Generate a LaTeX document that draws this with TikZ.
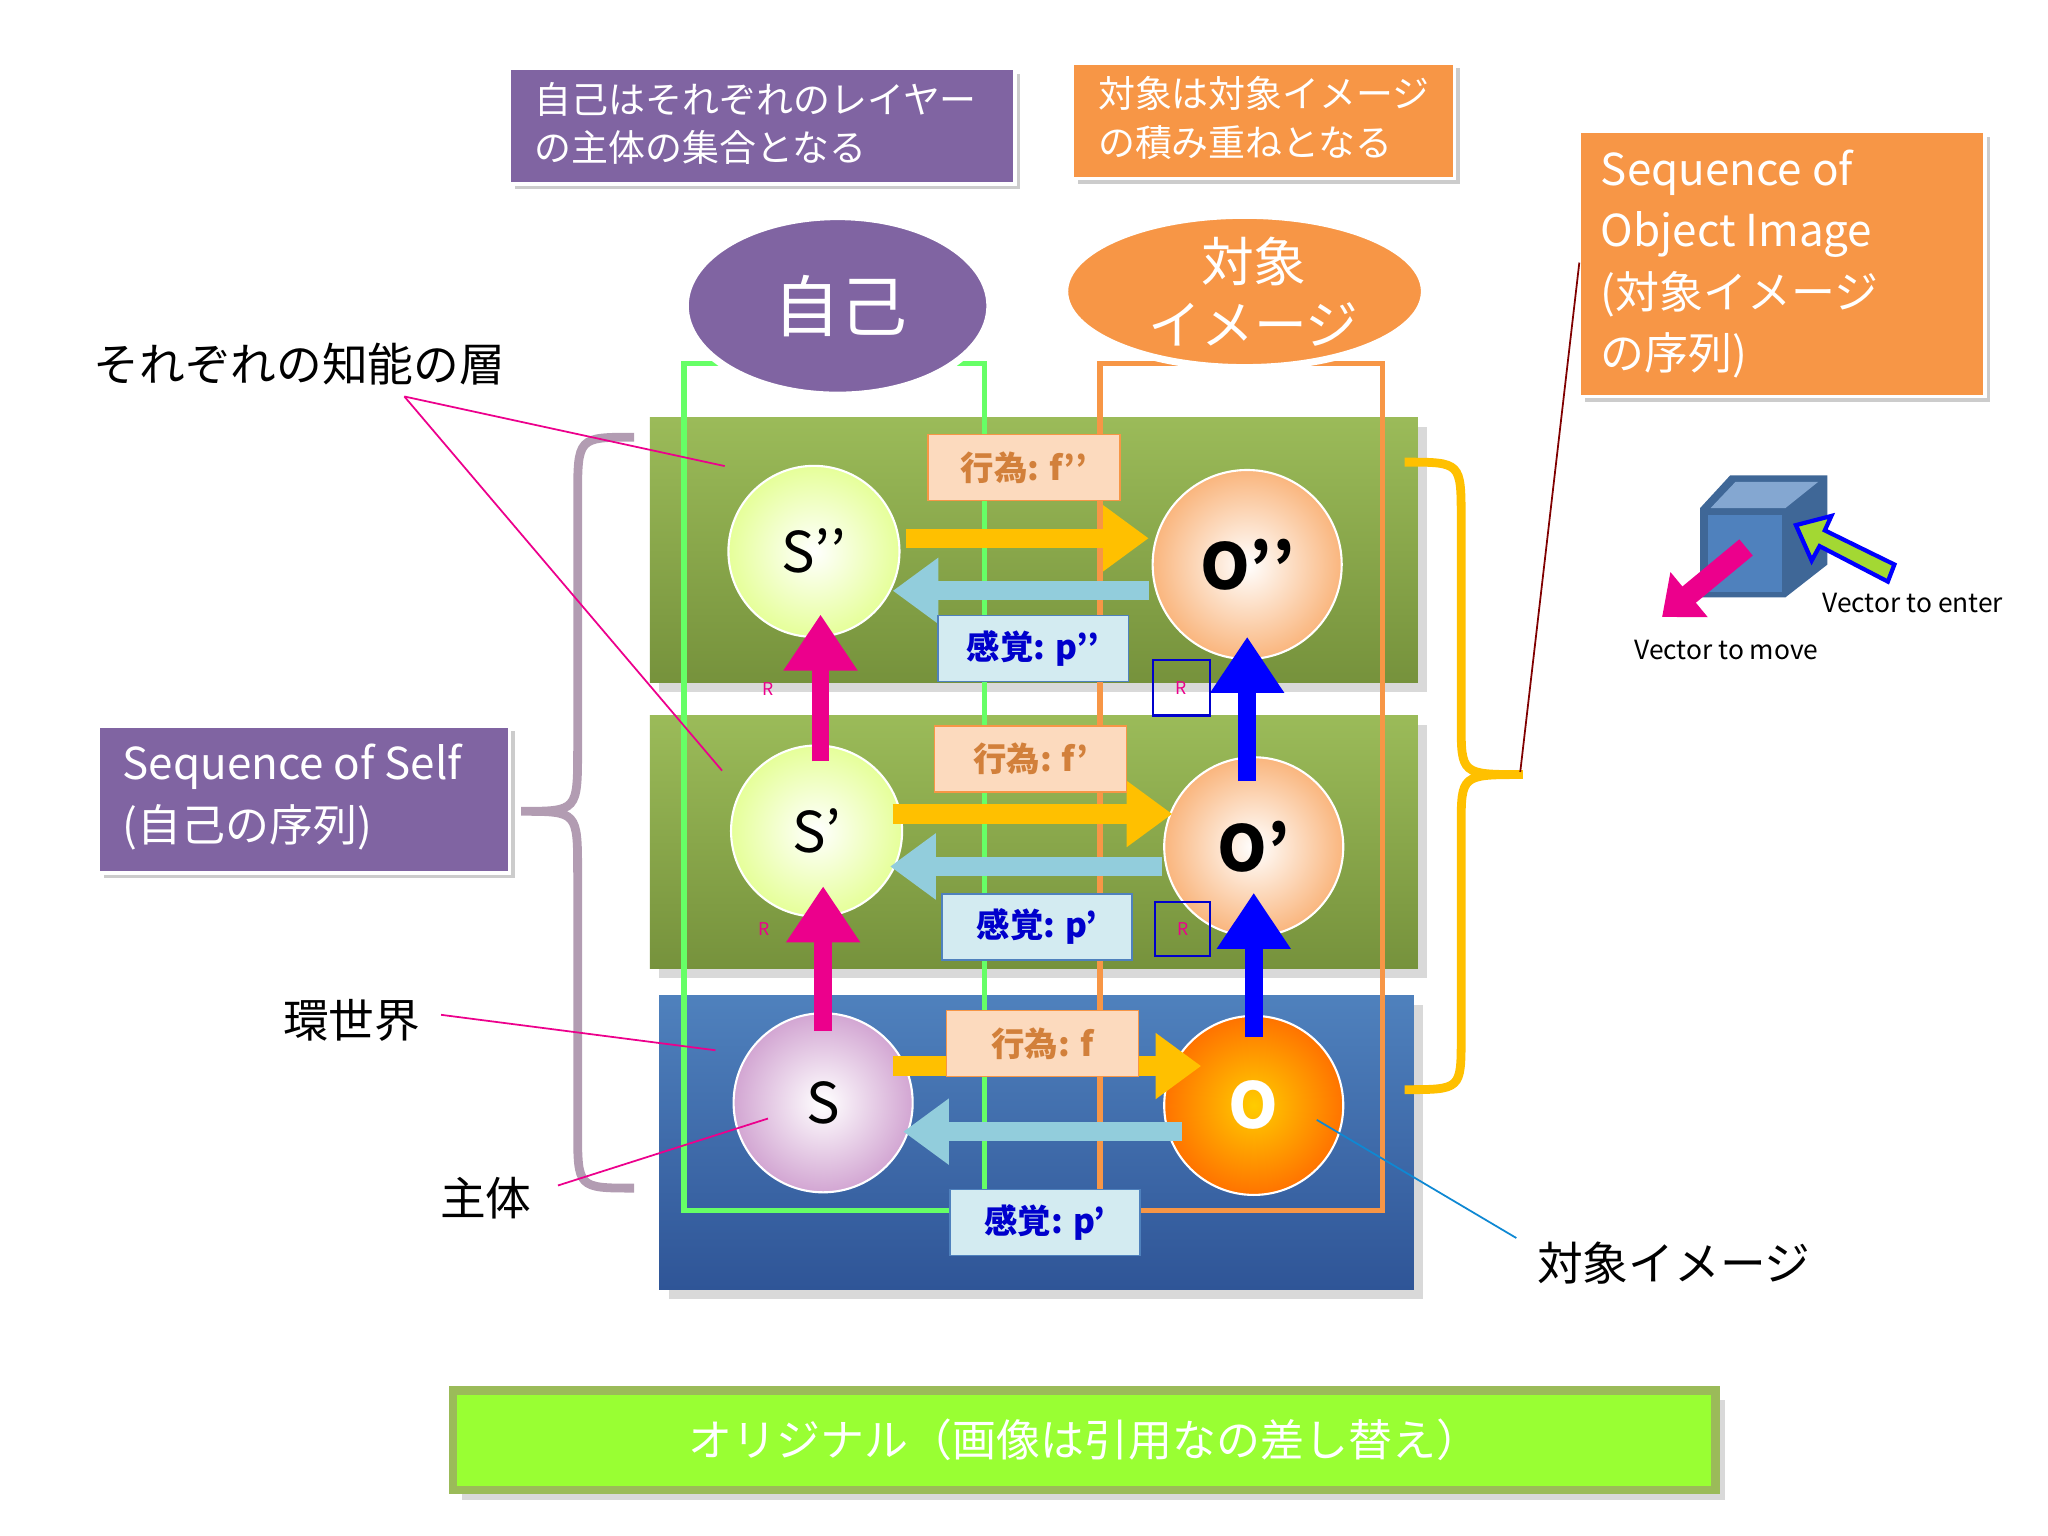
\documentclass[tikz,border=0pt]{standalone}
\usepackage{fontspec}
\setmainfont{Noto Sans CJK JP}
\usetikzlibrary{arrows.meta,shadows}
\definecolor{pur}{HTML}{8064A2}
\definecolor{org}{HTML}{F79646}
\definecolor{gA}{HTML}{9BBB59}
\definecolor{gB}{HTML}{76923C}
\definecolor{bA}{HTML}{4F81BD}
\definecolor{bB}{HTML}{2F5597}
\definecolor{yel}{HTML}{FFC000}
\definecolor{lbl}{HTML}{92CDDC}
\definecolor{lime}{HTML}{99FF33}
\begin{document}
\begin{tikzpicture}[x=0.01313cm,y=-0.01313cm,
 box/.style={draw=white,line width=1pt,drop shadow={shadow xshift=1.5pt,shadow yshift=-1.5pt,opacity=0.4}},
 lab/.style={text=white,align=left,anchor=west},
 act/.style={draw=org,fill=org!35,text=org!85!black,font=\fontsize{9.5}{11}\selectfont\bfseries,minimum width=1.92cm,minimum height=0.66cm,inner sep=1pt},
 sen/.style={draw=bA,fill=lbl!40,text=blue!80!black,font=\fontsize{9.5}{11}\selectfont\bfseries,minimum width=1.9cm,minimum height=0.66cm,inner sep=1pt},
 hor/.style={line width=5.5pt,-{Triangle[length=13pt,width=18pt]}},
 ver/.style={line width=5pt,-{Triangle[length=16pt,width=20pt]}},
 ball/.style={circle,draw=white,line width=0.6pt,font=\fontsize{16}{18}\selectfont},
 ann/.style={font=\fontsize{13}{15}\selectfont},
 pin/.style={magenta,line width=0.5pt},
 rr/.style={magenta,font=\fontsize{5}{6}\selectfont}]
\useasboundingbox (0,0) rectangle (1560,1170);
% top boxes
\fill[pur,box] (388,52) rectangle (773,140);
\node[lab,font=\fontsize{10.5}{13.8}\selectfont] (b1) at (398,94) {自己はそれぞれのレイヤー\\の主体の集合となる};
\fill[org,box] (817,48) rectangle (1108,136);
\node[lab,font=\fontsize{10.5}{13.8}\selectfont] (b2) at (827,90) {対象は対象イメージ\\の積み重ねとなる};
\fill[org,box] (1203,100) rectangle (1512,302);
\node[lab,font=\fontsize{12.5}{17.5}\selectfont] (soi) at (1210,201) {Sequence of\\Object Image\\(対象イメージ\\の序列)};
\fill[pur,box] (75,553) rectangle (388,665);
\node[lab,font=\fontsize{12.5}{17.5}\selectfont] (sos) at (84,607) {Sequence of Self\\(自己の序列)};
% layers
\shade[top color=gA,bottom color=gB,drop shadow={opacity=0.3}] (495,318) rectangle (1080,520);
\shade[top color=gA,bottom color=gB,drop shadow={opacity=0.3}] (495,545) rectangle (1080,738);
\shade[top color=bA,bottom color=bB,drop shadow={opacity=0.3}] (502,758) rectangle (1077,982);
% outlines
\draw[green!60!white,line width=1.6pt] (521,277) rectangle (750,922);
\draw[org,line width=1.6pt] (838,277) rectangle (1053,922);
% ellipses
\fill[pur,draw=white,line width=2pt] (638,233) ellipse [x radius=116,y radius=68];
\node[text=white,font=\fontsize{19}{21}\selectfont\itshape] (self) at (640,233) {自己};
\fill[org,draw=white,line width=2pt] (948,222) ellipse [x radius=137,y radius=58];
\node[text=white,font=\fontsize{15}{18}\selectfont\itshape,align=center] (obj) at (955,222) {対象\\イメージ};
% balls
\node[ball,inner color=white,outer color=green!25!yellow!40,minimum size=1.71cm] (s2) at (620,420) {S’’};
\node[ball,inner color=white,outer color=org!70,minimum size=1.89cm,font=\fontsize{18}{20}\selectfont\bfseries] (o2) at (950,430) {O’’};
\node[ball,inner color=white,outer color=green!25!yellow!40,minimum size=1.71cm] (s1) at (622,633) {S’};
\node[ball,inner color=white,outer color=org!70,minimum size=1.79cm,font=\fontsize{18}{20}\selectfont\bfseries] (o1) at (955,645) {O’};
\node[ball,inner color=white,outer color=violet!35,minimum size=1.79cm] (s0) at (627,840) {S};
\node[ball,inner color=yellow!60!orange,outer color=orange!90!red,minimum size=1.79cm,text=white,font=\fontsize{18}{20}\selectfont\bfseries] (o0) at (955,842) {O};
% horizontal arrows
\draw[hor,yel] (690,410) -- (875,410);
\draw[hor,lbl] (875,450) -- (680,450);
\draw[hor,yel] (680,620) -- (893,620);
\draw[hor,lbl] (885,660) -- (678,660);
\draw[hor,yel] (680,812) -- (915,812);
\draw[hor,lbl] (900,862) -- (688,862);
% labels
\node[act] (f2) at (780,356) {行為: f’’};
\node[sen] (p2) at (787,494) {感覚: p’’};
\node[act] (f1) at (785,578) {行為: f’};
\node[sen] (p1) at (790,706) {感覚: p’};
\node[act] (f0) at (794,795) {行為: f};
\node[sen] (p0) at (796,931) {感覚: p’};
% vertical arrows
\draw[ver,magenta] (627,785) -- (627,675);
\draw[ver,magenta] (625,580) -- (625,468);
\draw[ver,blue] (955,790) -- (955,680);
\draw[ver,blue] (950,595) -- (950,485);
\node[rr] at (585,525) {R};
\node[rr] at (582,708) {R};
\draw[blue!80!black,line width=0.6pt] (878,503) rectangle (922,545);
\node[rr] at (900,524) {R};
\draw[blue!80!black,line width=0.6pt] (880,687) rectangle (922,728);
\node[rr] at (901,708) {R};
% braces
\draw[violet!30!gray!60,line width=2.5pt] (483,333) .. controls (440,333) .. (440,380) -- (440,570) .. controls (440,618) .. (397,618) .. controls (440,618) .. (440,665) -- (440,860) .. controls (440,905) .. (483,905);
\draw[yel,line width=2.5pt] (1070,352) .. controls (1113,352) .. (1113,395) -- (1113,550) .. controls (1113,590) .. (1160,590) .. controls (1113,590) .. (1113,630) -- (1113,790) .. controls (1113,830) .. (1070,830);
% annotations
\node[ann] (t1) at (228,277) {それぞれの知能の層};
\coordinate (t1p) at (308,302);
\coordinate (l2) at (552,355); \coordinate (l1) at (550,587);
\draw[pin] (t1p) -- (l2); \draw[pin] (t1p) -- (l1);
\node[ann] (t2) at (268,777) {環世界};
\coordinate (e0) at (545,800);
\draw[pin] (336,773) -- (e0);
\node[ann] (t3) at (370,913) {主体};
\coordinate (e1) at (585,852);
\draw[pin] (425,903) -- (e1);
\node[ann] (t4) at (1275,962) {対象イメージ};
\coordinate (e2) at (1003,853);
\draw[cyan!70!blue,line width=0.5pt] (1155,943) -- (e2);
\coordinate (br) at (1158,588);
\draw[red!50!black,line width=0.5pt] (1203,200) -- (br);
% bottom bar
\fill[lime,draw=gA,line width=2.5pt,drop shadow={opacity=0.3}] (345,1059) rectangle (1307,1135);
\node[white,font=\fontsize{12.5}{14}\selectfont] (orig) at (826,1097) {オリジナル（画像は引用なの差し替え）};
% cube
\fill[bA!80!black] (1295,387) -- (1318,362) -- (1392,362) -- (1392,430) -- (1360,455) -- (1295,455) -- cycle;
\fill[bA] (1301,392) rectangle (1357,451);
\fill[bA!70!white] (1303,387) -- (1322,367) -- (1385,367) -- (1360,387) -- cycle;
\draw[magenta,line width=6pt,-{Triangle[length=10pt,width=16pt]}] (1330,417) -- (1266,470);
\draw[draw=blue,line width=1.2pt,fill=yellow!60!green!90!white] (1438,443) -- (1443,430) -- (1390,404) -- (1395,393) -- (1368,400) -- (1380,427) -- (1386,416) -- cycle;
\node[font=\fontsize{7.5}{9}\selectfont] (ve) at (1457,459) {Vector to enter};
\node[font=\fontsize{7.5}{9}\selectfont] (vm) at (1315,495) {Vector to move};
\end{tikzpicture}
\end{document}
